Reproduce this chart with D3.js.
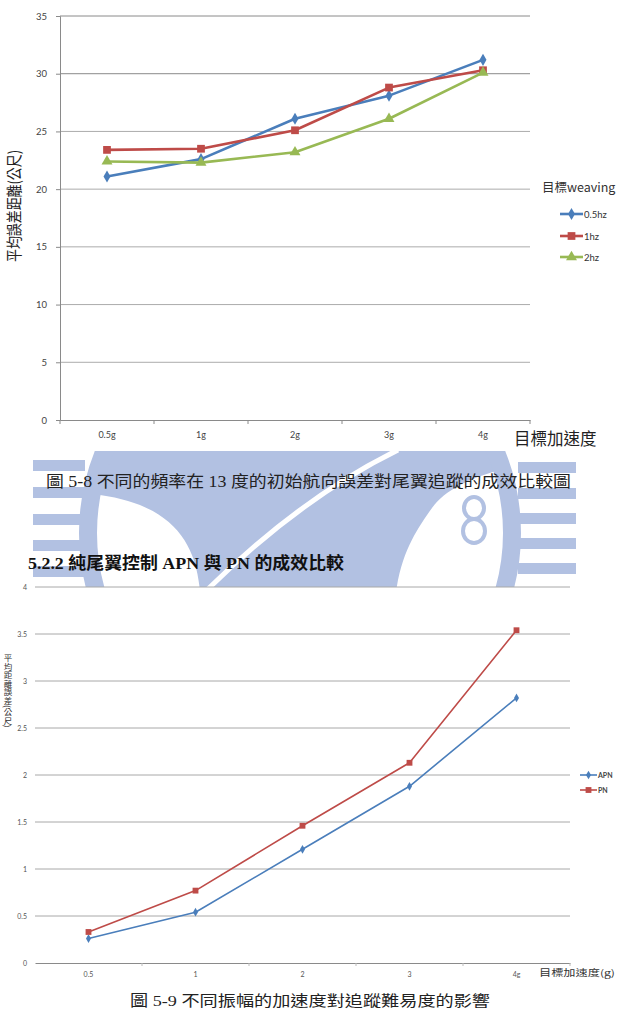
<!DOCTYPE html>
<html><head><meta charset="utf-8">
<script src="https://cdn.jsdelivr.net/npm/d3@7"></script>
<style>body{margin:0;background:#fff}svg{display:block}</style>
</head><body>
<svg id="c" width="618" height="1011"></svg>
<script>
// ---------- data: chart 1 ----------
const cats1 = ["0.5g", "1g", "2g", "3g", "4g"];
const series1Names = ["0.5hz", "1hz", "2hz"];
const s05hz = [21.1, 22.6, 26.1, 28.1, 31.2];
const s1hz  = [23.4, 23.5, 25.1, 28.8, 30.3];
const s2hz  = [22.4, 22.3, 23.2, 26.1, 30.1];
const yTicks1 = [0, 5, 10, 15, 20, 25, 30, 35];
// ---------- data: chart 2 ----------
const cats2 = ["0.5", "1", "2", "3", "4g"];
const series2Names = ["APN", "PN"];
const apn = [0.26, 0.54, 1.21, 1.88, 2.82];
const pn  = [0.33, 0.77, 1.46, 2.13, 3.54];
const yTicks2 = [0, 0.5, 1, 1.5, 2, 2.5, 3, 3.5, 4];
// ---------- texts ----------
const yLabel1 = "平均誤差距離(公尺)";
const xLabel1 = "目標加速度";
const legendTitle1 = "目標weaving";
const caption1 = "圖 5-8 不同的頻率在 13 度的初始航向誤差對尾翼追蹤的成效比較圖";
const heading2 = "5.2.2 純尾翼控制 APN 與 PN 的成效比較";
const yLabel2 = "平均距離誤差(公尺)";
const xLabel2 = "目標加速度(g)";
const caption2 = "圖 5-9 不同振幅的加速度對追蹤難易度的影響";

const BLUE = "#4a7ebb", RED = "#be4b48", GREEN = "#98b954";
const CJK = "'Noto Sans CJK TC', 'Noto Sans', sans-serif";
const TICKF = "Lato, 'Open Sans', sans-serif";
const CAPF = "'Liberation Serif', 'Noto Sans CJK TC', serif";

const svg = d3.select("#c");
const defs = svg.append("defs");
defs.append("clipPath").attr("id", "wmclip").append("rect")
  .attr("x", 0).attr("y", 451).attr("width", 618).attr("height", 136);

// ---------- watermark (faint logo) ----------
const WM = "#b2c1e2";
const wm = svg.append("g").attr("clip-path", "url(#wmclip)");
wm.append("path").attr("fill", WM)
  .attr("d", "M100,450 L500,450 L500,470 C470,478 445,490 432,508 C418,528 402,550 396,592 L200,592 C196,540 170,505 100,495 Z");
wm.append("path").attr("fill", "none").attr("stroke", "#fff").attr("stroke-width", 5)
  .attr("d", "M398,450 Q300,498 205,592");
wm.append("ellipse").attr("cx", 474).attr("cy", 508).attr("rx", 10).attr("ry", 11)
  .attr("fill", "none").attr("stroke", WM).attr("stroke-width", 4);
wm.append("ellipse").attr("cx", 474).attr("cy", 531).attr("rx", 11).attr("ry", 12)
  .attr("fill", "none").attr("stroke", WM).attr("stroke-width", 4);
wm.append("circle").attr("cx", 300).attr("cy", 533).attr("r", 212)
  .attr("fill", "none").attr("stroke", WM).attr("stroke-width", 18);
[460, 487, 514, 540, 566].forEach(y => wm.append("rect").attr("x", 33).attr("y", y)
  .attr("width", 52).attr("height", 11).attr("fill", WM));
[462, 488, 513, 538, 563].forEach(y => wm.append("rect").attr("x", 518).attr("y", y)
  .attr("width", 58).attr("height", 11).attr("fill", WM));

// ---------- chart 1 ----------
const x1 = d3.scaleBand().domain(cats1).range([60, 530]);
const y1 = d3.scaleLinear().domain([0, 35]).range([420, 16]);
const g1 = svg.append("g");
g1.selectAll("line.grid").data(yTicks1.filter(d => d > 0)).join("line")
  .attr("x1", 60).attr("x2", 530).attr("y1", d => y1(d)).attr("y2", d => y1(d))
  .attr("stroke", d => d >= 30 ? "#8a8a8a" : "#ababab").attr("stroke-width", 1);
const ax1 = g1.append("g").attr("transform", "translate(60,0)")
  .call(d3.axisLeft(y1).tickValues(yTicks1).tickSize(4).tickPadding(9));
ax1.select(".domain").attr("stroke", "#8a8a8a");
ax1.selectAll(".tick line").attr("stroke", "#8a8a8a");
ax1.selectAll("text").attr("font-family", TICKF).attr("font-size", 9.5).attr("fill", "#444");
const bx1 = g1.append("g").attr("transform", "translate(0,420)")
  .call(d3.axisBottom(x1).tickSize(0).tickSizeOuter(0).tickPadding(12));
bx1.select(".domain").attr("stroke", "#8a8a8a");
bx1.selectAll("text").attr("font-family", TICKF).attr("font-size", 9).attr("fill", "#444");
const bnd1 = cats1.map(c => x1(c)).concat([x1.range()[1]]);
g1.selectAll("line.bt").data(bnd1).join("line")
  .attr("x1", d => d).attr("x2", d => d).attr("y1", 420).attr("y2", 424).attr("stroke", "#8a8a8a");

const data1 = [s05hz, s1hz, s2hz];
const cols1 = [BLUE, RED, GREEN];
const syms1 = [d3.symbolDiamond, d3.symbolSquare, d3.symbolTriangle];
const symSize1 = [42, 60, 52];
const line1 = d3.line().x((d, i) => x1(cats1[i]) + x1.bandwidth() / 2).y(d => y1(d));
data1.forEach((vals, k) => {
  g1.append("path").datum(vals).attr("d", line1).attr("fill", "none")
    .attr("stroke", cols1[k]).attr("stroke-width", 2.6).attr("stroke-linejoin", "round");
  g1.selectAll(null).data(vals).join("path")
    .attr("transform", (d, i) => `translate(${x1(cats1[i]) + x1.bandwidth() / 2},${y1(d)})`)
    .attr("d", d3.symbol(syms1[k], symSize1[k])).attr("fill", cols1[k]);
});
// axis titles
g1.append("text").attr("transform", "translate(20,206) rotate(-90)")
  .attr("text-anchor", "middle").attr("font-family", CJK).attr("font-size", 15.5)
  .attr("textLength", 112).attr("lengthAdjust", "spacingAndGlyphs").attr("fill", "#222").text(yLabel1);
g1.append("text").attr("x", 514).attr("y", 445).attr("font-family", CJK).attr("font-size", 16.5)
  .attr("fill", "#222").text(xLabel1);
// legend
g1.append("text").attr("x", 542).attr("y", 192).attr("font-family", CJK).attr("font-size", 12.5)
  .attr("fill", "#333").text(legendTitle1);
const legY1 = [214, 236, 257];
series1Names.forEach((n, k) => {
  g1.append("line").attr("x1", 560).attr("x2", 583).attr("y1", legY1[k]).attr("y2", legY1[k])
    .attr("stroke", cols1[k]).attr("stroke-width", 2.6);
  g1.append("path").attr("transform", `translate(571.5,${legY1[k]})`)
    .attr("d", d3.symbol(syms1[k], symSize1[k])).attr("fill", cols1[k]);
  g1.append("text").attr("x", 584).attr("y", legY1[k] + 3.5).attr("font-family", TICKF)
    .attr("font-size", 9.5).attr("fill", "#333").text(n);
});

// ---------- captions / heading ----------
svg.append("text").attr("x", 46).attr("y", 487).attr("font-family", CAPF).attr("font-size", 16)
  .attr("textLength", 525).attr("lengthAdjust", "spacingAndGlyphs").attr("fill", "#222").text(caption1);
svg.append("text").attr("x", 28).attr("y", 569).attr("font-family", CAPF).attr("font-size", 17)
  .attr("font-weight", "bold").attr("textLength", 316).attr("lengthAdjust", "spacingAndGlyphs")
  .attr("fill", "#111").text(heading2);

// ---------- chart 2 ----------
const x2 = d3.scaleBand().domain(cats2).range([35, 570]);
const y2 = d3.scaleLinear().domain([0, 4]).range([963, 587]);
const g2 = svg.append("g");
g2.selectAll("line.grid").data(yTicks2.filter(d => d > 0)).join("line")
  .attr("x1", 35).attr("x2", 570).attr("y1", d => y2(d)).attr("y2", d => y2(d))
  .attr("stroke", "#a8a8a8").attr("stroke-width", 1);
const ax2 = g2.append("g").attr("transform", "translate(35,0)")
  .call(d3.axisLeft(y2).tickValues(yTicks2).tickFormat(d3.format("~g")).tickSize(0).tickPadding(8));
ax2.select(".domain").remove();
ax2.selectAll("text").attr("font-family", TICKF).attr("font-size", 7).attr("fill", "#555");
const bx2 = g2.append("g").attr("transform", "translate(0,963)")
  .call(d3.axisBottom(x2).tickSize(0).tickSizeOuter(0).tickPadding(9));
bx2.select(".domain").attr("stroke", "#8a8a8a");
bx2.selectAll("text").attr("font-family", TICKF).attr("font-size", 7).attr("fill", "#555");
const bnd2 = cats2.map(c => x2(c)).concat([x2.range()[1]]);
g2.selectAll("line.bt").data(bnd2.slice(1)).join("line")
  .attr("x1", d => d).attr("x2", d => d).attr("y1", 963).attr("y2", 966).attr("stroke", "#bbb");

const data2 = [apn, pn];
const cols2 = [BLUE, RED];
const syms2 = [d3.symbolDiamond, d3.symbolSquare];
const symSize2 = [22, 34];
const line2 = d3.line().x((d, i) => x2(cats2[i]) + x2.bandwidth() / 2).y(d => y2(d));
data2.forEach((vals, k) => {
  g2.append("path").datum(vals).attr("d", line2).attr("fill", "none")
    .attr("stroke", cols2[k]).attr("stroke-width", 1.6).attr("stroke-linejoin", "round");
  g2.selectAll(null).data(vals).join("path")
    .attr("transform", (d, i) => `translate(${x2(cats2[i]) + x2.bandwidth() / 2},${y2(d)})`)
    .attr("d", d3.symbol(syms2[k], symSize2[k])).attr("fill", cols2[k]);
});
// vertical y label (top-to-bottom)
g2.append("text").attr("x", 8).attr("y", 654)
  .style("writing-mode", "vertical-rl").attr("font-family", CJK).attr("font-size", 8.5)
  .attr("fill", "#333").text(yLabel2);
g2.append("text").attr("x", 539).attr("y", 976).attr("font-family", CJK).attr("font-size", 9)
  .attr("textLength", 76).attr("lengthAdjust", "spacingAndGlyphs").attr("fill", "#333").text(xLabel2);
const legY2 = [775, 790];
series2Names.forEach((n, k) => {
  g2.append("line").attr("x1", 580).attr("x2", 597).attr("y1", legY2[k]).attr("y2", legY2[k])
    .attr("stroke", cols2[k]).attr("stroke-width", 1.6);
  g2.append("path").attr("transform", `translate(588.5,${legY2[k]})`)
    .attr("d", d3.symbol(syms2[k], symSize2[k])).attr("fill", cols2[k]);
  g2.append("text").attr("x", 598).attr("y", legY2[k] + 2.5).attr("font-family", TICKF)
    .attr("font-size", 7).attr("font-weight", "bold").attr("fill", "#444").text(n);
});
svg.append("text").attr("x", 130).attr("y", 1006).attr("font-family", CAPF).attr("font-size", 15)
  .attr("textLength", 360).attr("lengthAdjust", "spacingAndGlyphs").attr("fill", "#222").text(caption2);
</script>
</body></html>
